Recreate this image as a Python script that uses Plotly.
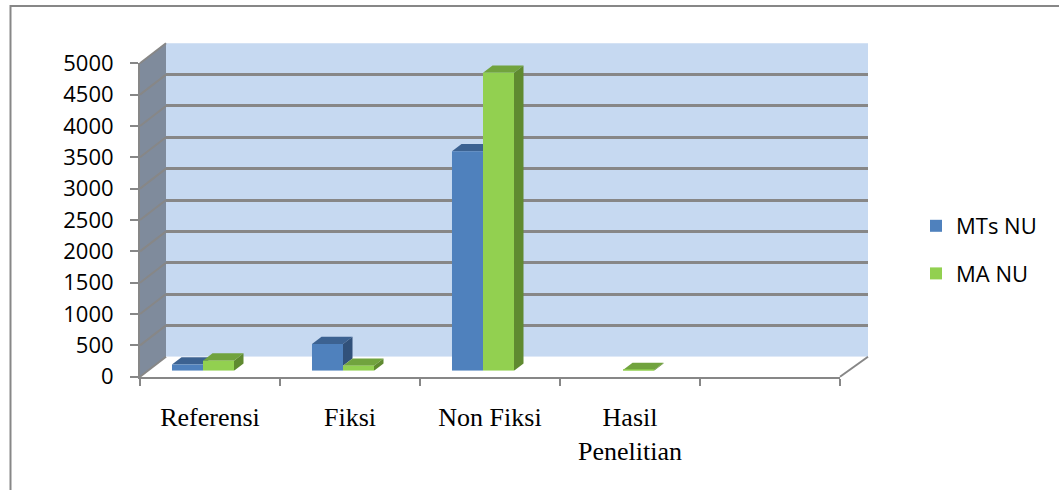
import plotly.graph_objects as go

# ---------------- data ----------------
categories = ["Referensi", "Fiksi", "Non Fiksi", "Hasil<br>Penelitian", " "]
series_names = ["MTs NU", "MA NU"]
mts_nu = [100, 425, 3500, 0]
ma_nu = [160, 80, 4750, 10]
y_ticks = [0, 500, 1000, 1500, 2000, 2500, 3000, 3500, 4000, 4500, 5000]

# ---------------- styling ----------------
W, H = 1059, 490
GRID = "#878787"
BLUE, BLUE_TOP, BLUE_SIDE = "#4F81BD", "#3C6291", "#31517A"
GREEN, GREEN_TOP, GREEN_SIDE = "#92D050", "#71A33E", "#5F8A30"
WALL_BACK = "#C6D9F1"
WALL_SIDE = "#7F8B9C"

def px(x):
    return x / W

def py(y):
    return 1 - y / H

# geometry (pixels) of the pseudo-3D box
FL, FR = 140, 840          # front axis left / right
BL, BR = 166, 868          # back wall left / right
F0, F5 = 376.7, 63.3       # front axis y for 0 / max
B0, B5 = 356.7, 43.3       # back wall y for 0 / max
YMAX = y_ticks[-1]
BAR0, BAR5 = 370.7, 57.2   # bar plane y for 0 / max
BARL, BARR = 133, 833      # bar plane x extent

BARGAP = 0.557
n_cat = len(categories)

fig = go.Figure()

# bars (front faces)
fig.add_trace(go.Bar(x=categories[:len(mts_nu)], y=mts_nu, name=series_names[0],
                     marker=dict(color=BLUE, line=dict(width=0)),
                     xaxis="x3", yaxis="y3", legendgroup="a"))
fig.add_trace(go.Bar(x=categories[:len(ma_nu)], y=ma_nu, name=series_names[1],
                     marker=dict(color=GREEN, line=dict(width=0)),
                     xaxis="x3", yaxis="y3", legendgroup="b"))

# empty traces to instantiate the other subplots
fig.add_trace(go.Scatter(x=[None], y=[None], xaxis="x", yaxis="y", showlegend=False, hoverinfo="skip"))
fig.add_trace(go.Scatter(x=[None], y=[None], xaxis="x2", yaxis="y2", showlegend=False, hoverinfo="skip"))

shapes = []
# outer border
shapes.append(dict(type="path", xref="paper", yref="paper", layer="below",
                   path=f"M {px(10.5)} {py(495)} L {px(10.5)} {py(6)} L {px(1065)} {py(6)}",
                   line=dict(color=GRID, width=2)))
# back wall
shapes.append(dict(type="rect", xref="paper", yref="paper", layer="below",
                   x0=px(BL), x1=px(BR), y0=py(B0), y1=py(B5),
                   fillcolor=WALL_BACK, line=dict(width=0)))
# side wall
shapes.append(dict(type="path", xref="paper", yref="paper", layer="below",
                   path=f"M {px(FL)} {py(F5)} L {px(BL)} {py(B5)} L {px(BL)} {py(B0)} L {px(FL)} {py(F0)} Z",
                   fillcolor=WALL_SIDE, line=dict(width=0)))
# floor
shapes.append(dict(type="path", xref="paper", yref="paper", layer="below",
                   path=f"M {px(FL)} {py(F0)} L {px(BL)} {py(B0)} L {px(BR)} {py(B0)} L {px(FR)} {py(F0)} Z",
                   fillcolor="white", line=dict(width=0)))
shapes.append(dict(type="line", xref="paper", yref="paper", layer="below",
                   x0=px(FR), y0=py(F0), x1=px(BR), y1=py(B0),
                   line=dict(color=GRID, width=2)))
# side wall grid diagonals
for v in y_ticks:
    yf = F0 - (F0 - F5) * v / YMAX
    yb = B0 - (B0 - B5) * v / YMAX
    shapes.append(dict(type="line", xref="paper", yref="paper", layer="below",
                       x0=px(FL), y0=py(yf), x1=px(BL), y1=py(yb),
                       line=dict(color=GRID, width=2)))

# 3D faces of the bars (computed from the data, on the bar axes)
bw = (1 - BARGAP) / 2
dx = 9.5 / ((BARR - BARL) / n_cat)
dy = 7.3 / ((BAR0 - BAR5) / YMAX)

def face(path, color):
    return dict(type="path", xref="x3", yref="y3", layer="between",
                path=path, fillcolor=color, line=dict(width=0))

for i in range(len(mts_nu)):
    b, g = mts_nu[i], ma_nu[i]
    # blue
    xl, xr = i - bw, i
    if b > 0:
        shapes.append(face(f"M {xl} {b} L {xl+dx} {b+dy} L {xr+dx} {b+dy} L {xr} {b} Z", BLUE_TOP))
        if b > g:
            shapes.append(face(f"M {xr} {g} L {xr} {b} L {xr+dx} {b+dy} L {xr+dx} {g+dy} Z", BLUE_SIDE))
    # green
    xl, xr = i, i + bw
    if g > 0:
        shapes.append(face(f"M {xl} {g} L {xl+dx} {g+dy} L {xr+dx} {g+dy} L {xr} {g} Z", GREEN_TOP))
        shapes.append(face(f"M {xr} 0 L {xr} {g} L {xr+dx} {g+dy} L {xr+dx} {dy} Z", GREEN_SIDE))

fig.update_layout(
    width=W, height=H,
    margin=dict(l=0, r=0, t=0, b=0, autoexpand=False),
    paper_bgcolor="white",
    plot_bgcolor="rgba(0,0,0,0)",
    barmode="group", bargap=BARGAP, bargroupgap=0,
    shapes=shapes,
    showlegend=True,
    legend=dict(x=px(916), y=py(205), xanchor="left", yanchor="top",
                font=dict(family="Open Sans", size=22, color="black"),
                tracegroupgap=16, bgcolor="rgba(0,0,0,0)"),
    # front axes: tick labels
    xaxis=dict(domain=[px(FL), px(FR)], anchor="y", range=[-0.5, n_cat - 0.5],
               tickmode="array", tickvals=list(range(n_cat)), ticktext=categories,
               ticks="", showgrid=False, zeroline=False,
               showline=True, linecolor=GRID, linewidth=2,
               tickfont=dict(family="Liberation Serif", size=26, color="black"),
               ticklabelstandoff=16, automargin=False,
               minor=dict(tickmode="array", tickvals=[k - 0.5 for k in range(n_cat + 1)],
                          ticks="outside", ticklen=7, tickcolor=GRID, tickwidth=2, showgrid=False),
               fixedrange=True),
    yaxis=dict(domain=[py(F0), py(F5)], anchor="x", range=[0, YMAX],
               tickmode="array", tickvals=y_ticks, ticktext=[str(v) for v in y_ticks],
               ticks="outside", ticklen=8, tickcolor=GRID, tickwidth=2,
               showgrid=False, zeroline=False,
               showline=True, linecolor=GRID, linewidth=2,
               tickfont=dict(family="Open Sans", size=22, color="black"),
               ticklabelstandoff=12, automargin=False, fixedrange=True),
    # back wall axes: grid
    xaxis2=dict(domain=[px(BL), px(BR)], anchor="y2", range=[0, 1], visible=False,
                automargin=False, fixedrange=True),
    yaxis2=dict(domain=[py(B0), py(B5)], anchor="x2", range=[0, YMAX],
                tickmode="array", tickvals=y_ticks, showticklabels=False, ticks="",
                showgrid=True, gridcolor=GRID, gridwidth=2.5, zeroline=False,
                showline=False, automargin=False, fixedrange=True),
    # bar plane axes
    xaxis3=dict(domain=[px(BARL), px(BARR)], anchor="y3", type="category",
                categoryorder="array", categoryarray=categories,
                range=[-0.5, n_cat - 0.5], visible=False, automargin=False, fixedrange=True),
    yaxis3=dict(domain=[py(BAR0), py(BAR5)], anchor="x3", range=[0, YMAX],
                visible=False, automargin=False, fixedrange=True),
)

fig.write_html("out.html")
